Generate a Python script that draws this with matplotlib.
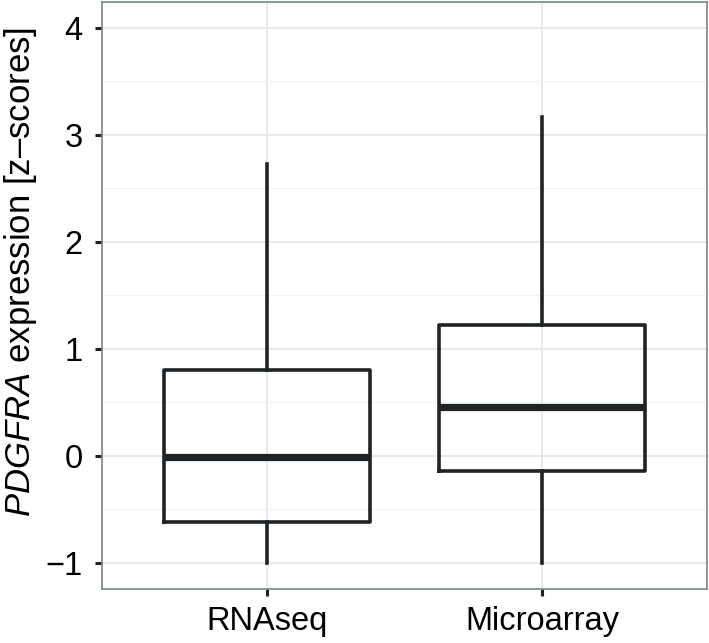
import matplotlib
matplotlib.use('Agg')
import matplotlib.pyplot as plt

plt.rcParams['font.family'] = ['Liberation Sans', 'DejaVu Sans']
plt.rcParams['mathtext.fontset'] = 'custom'
plt.rcParams['mathtext.it'] = 'Liberation Sans:italic'
plt.rcParams['mathtext.rm'] = 'Liberation Sans'

# box statistics
groups = ['RNAseq', 'Microarray']
whisker_low = [-1.00, -1.00]
q1 = [-0.62, -0.14]
median = [-0.01, 0.46]
q3 = [0.80, 1.22]
whisker_high = [2.73, 3.17]

LINE = '#1F2326'
GRID = '#E6E8E8'
BORDER = '#7A8585'

stats = []
for i, g in enumerate(groups):
    stats.append(dict(label=g, whislo=whisker_low[i], q1=q1[i], med=median[i],
                      q3=q3[i], whishi=whisker_high[i], fliers=[]))

fig = plt.figure(figsize=(7.09, 6.43), dpi=100)
ax = fig.add_axes([0.1439, 0.084, 0.8533, 0.9129])

ax.bxp(stats, positions=[1, 2], widths=0.75, showcaps=False, showfliers=False,
       boxprops=dict(color=LINE, linewidth=2.6),
       whiskerprops=dict(color=LINE, linewidth=2.6),
       medianprops=dict(color=LINE, linewidth=5.2, solid_capstyle='butt'),
       zorder=3)

ax.set_xlim(0.4, 2.6)
ax.set_ylim(-1.245, 4.24)
ax.set_yticks([-1, 0, 1, 2, 3, 4])
ax.set_yticklabels(['\u22121', '0', '1', '2', '3', '4'])
ax.set_yticks([-0.5, 0.5, 1.5, 2.5, 3.5], minor=True)
ax.set_xticks([1, 2])
ax.set_xticklabels(groups)

ax.grid(True, which='major', color=GRID, linewidth=1.3, zorder=0)
ax.grid(True, which='minor', axis='y', color='#F2F3F3', linewidth=0.9, zorder=0)
ax.set_axisbelow(True)

ax.tick_params(axis='both', which='major', labelsize=23.5, length=5, width=2.2,
               color=LINE, labelcolor='black')
ax.tick_params(axis='y', which='major', pad=9)
ax.tick_params(axis='x', which='major', pad=7)
ax.tick_params(axis='y', which='minor', length=0)

for s in ax.spines.values():
    s.set_color(BORDER)
    s.set_linewidth(1.2)

ax.set_ylabel('$\\it{PDGFRA}$ expression [z\u2013scores]', fontsize=25)
ax.yaxis.set_label_coords(-0.104, 0.54)

fig.savefig('out.png', dpi=100)
